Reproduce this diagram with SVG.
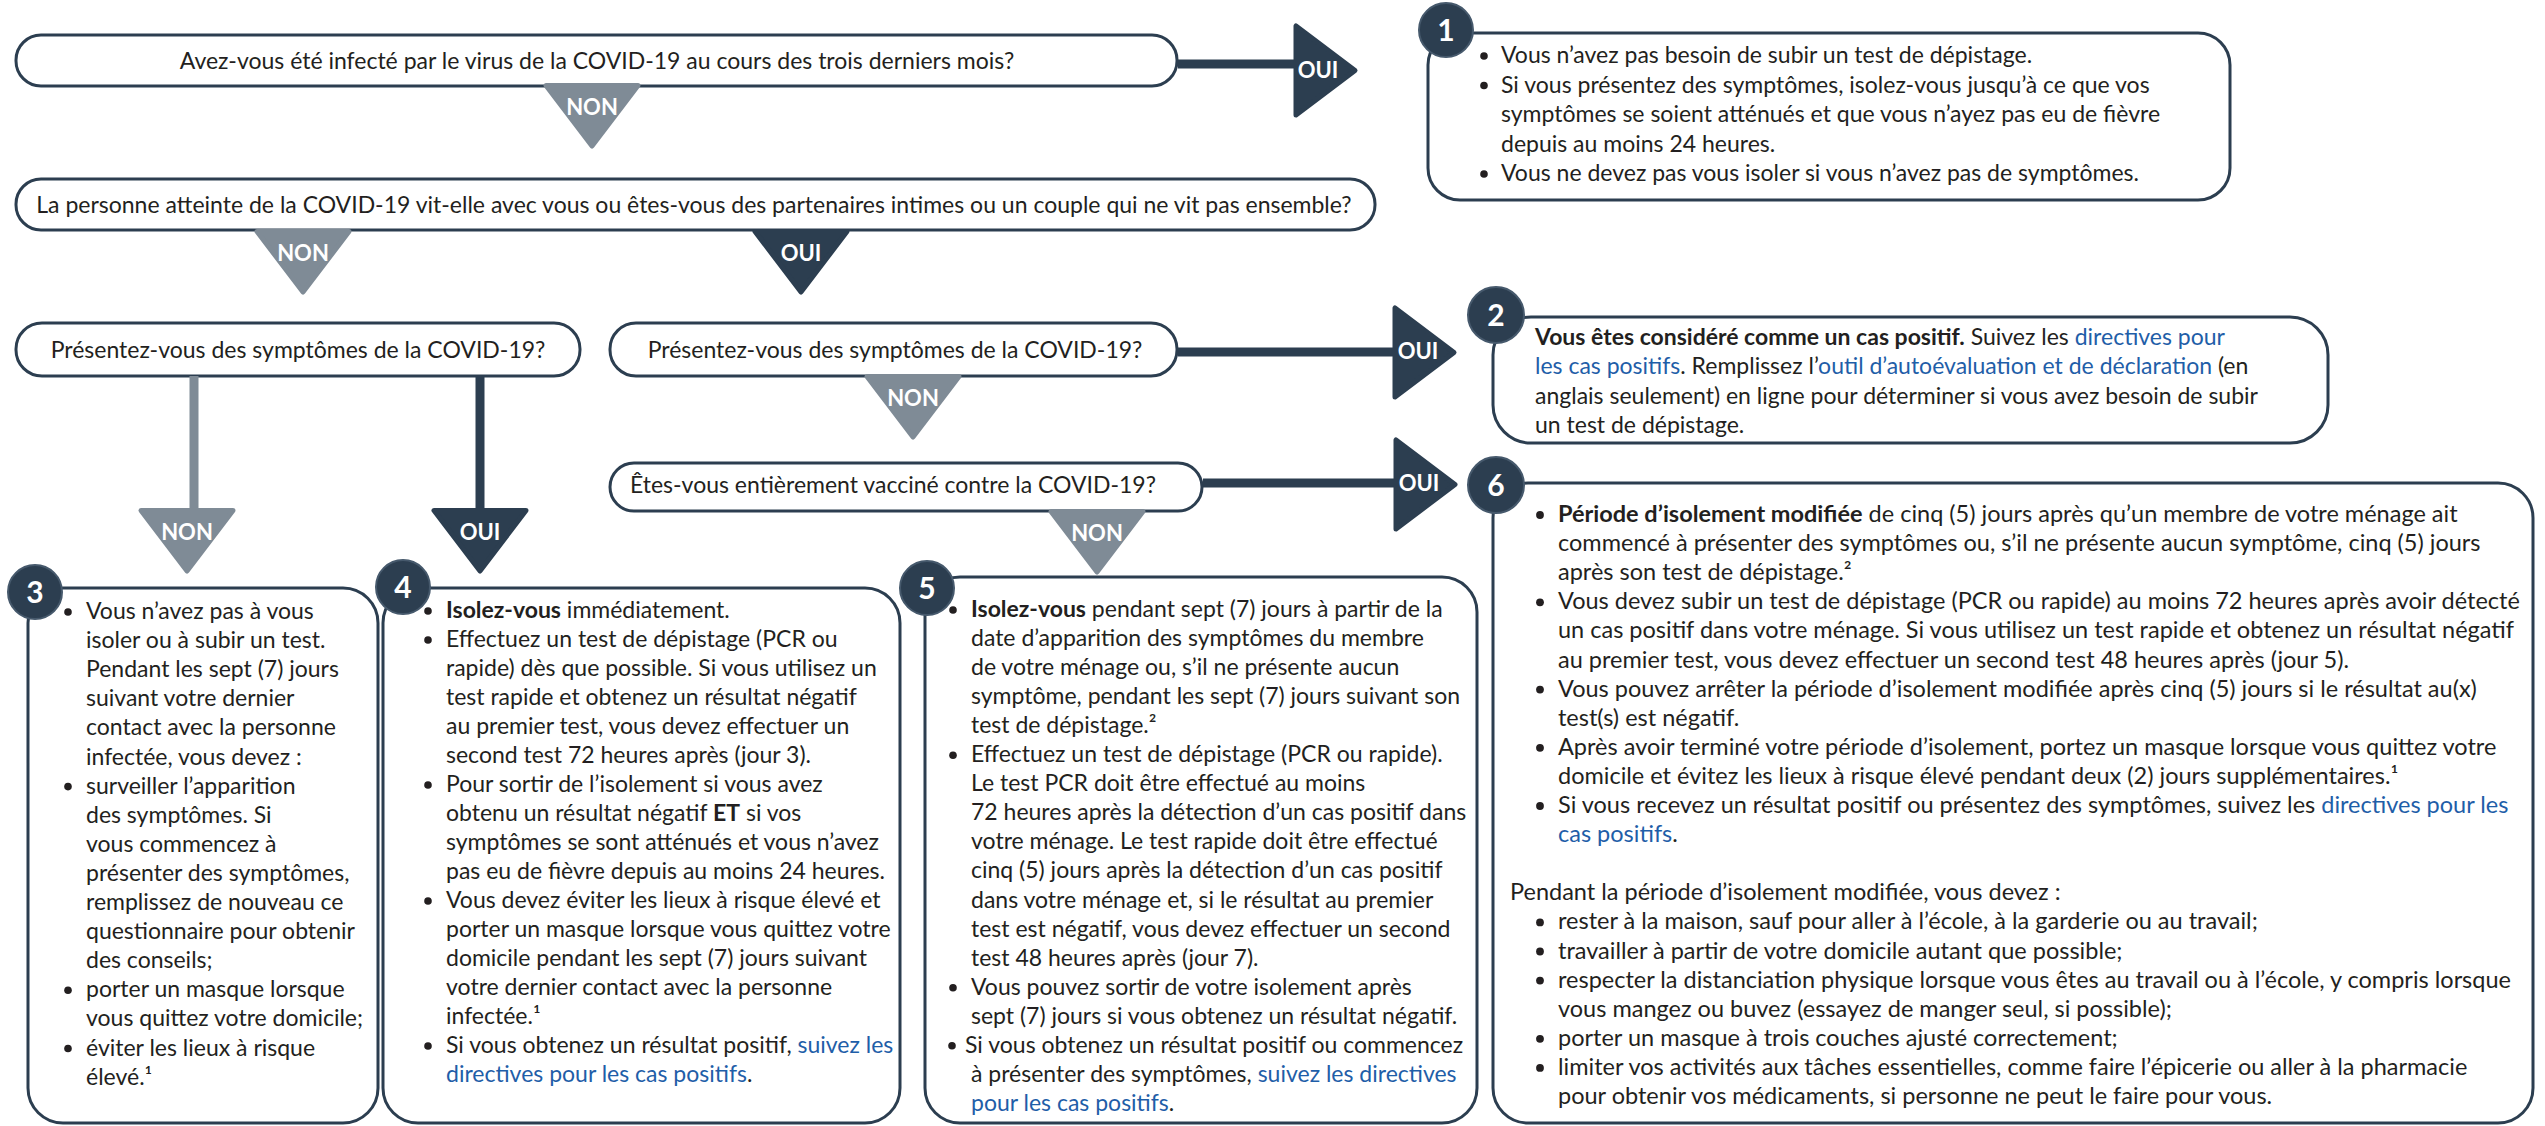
<svg xmlns="http://www.w3.org/2000/svg" xmlns:xlink="http://www.w3.org/1999/xlink" width="2545" height="1126" viewBox="0 0 2545 1126">
<defs>
<style>
text{font-family:Lato,"Noto Sans","Liberation Sans",sans-serif;font-size:23px;fill:#231f20}
.t24{font-size:23.5px}
.q{fill:#fff;stroke:#2c3e50;stroke-width:3}
.box{fill:#fff;stroke:#2c3e50;stroke-width:3}
.qt{text-anchor:middle}
.b{fill:#231f20}
.bold{font-weight:700}
.lk{fill:#1f5ea8}
.badge{fill:#2c3e50;stroke:#46596c;stroke-width:2}
.bn{font-weight:700;font-size:30px;fill:#fff;text-anchor:middle}
.lbl{font-weight:700;font-size:22px;fill:#fff;text-anchor:middle}
.dark{fill:#2c3e50;stroke:#2c3e50;stroke-width:5;stroke-linejoin:round}
.gray{fill:#7f8b96;stroke:#7f8b96;stroke-width:5;stroke-linejoin:round}
.ldark{stroke:#2c3e50;stroke-width:9;fill:none}
.lgray{stroke:#7f8b96;stroke-width:9;fill:none}
</style>
<path id="tdown" d="M-46 2.5 L46 2.5 L0 63 Z"/>
<path id="tright" d="M3 -44.5 L3 44.5 L62 0 Z"/>
</defs>
<rect width="2545" height="1126" fill="#fff"/>

<!-- Questions -->
<g id="q1">
<rect class="q" x="16" y="35" width="1161" height="51" rx="25"/>
<text class="qt" x="597" y="69">Avez-vous été infecté par le virus de la COVID-19 au cours des trois derniers mois?</text>
</g>
<g id="q2">
<rect class="q" x="16" y="179" width="1359" height="51" rx="25"/>
<text class="qt" x="694" y="213">La personne atteinte de la COVID-19 vit-elle avec vous ou êtes-vous des partenaires intimes ou un couple qui ne vit pas ensemble?</text>
</g>
<g id="q3a">
<rect class="q" x="16" y="323" width="564" height="53" rx="26"/>
<text class="qt" x="298" y="358">Présentez-vous des symptômes de la COVID-19?</text>
</g>
<g id="q3b">
<rect class="q" x="610" y="323" width="567" height="53" rx="26"/>
<text class="qt" x="895" y="358">Présentez-vous des symptômes de la COVID-19?</text>
</g>
<g id="q4">
<rect class="q" x="610" y="463" width="592" height="48" rx="24"/>
<text class="qt" x="893" y="493">Êtes-vous entièrement vacciné contre la COVID-19?</text>
</g>

<!-- Result boxes -->
<g id="r1">
<rect class="box" x="1428" y="33" width="802" height="167" rx="32"/>
<circle class="b" cx="1484" cy="56" r="3.8"/>
<circle class="b" cx="1484" cy="85.5" r="3.8"/>
<circle class="b" cx="1484" cy="174" r="3.8"/>
<text x="1501" y="63">Vous n’avez pas besoin de subir un test de dépistage.
<tspan x="1501" y="92.5">Si vous présentez des symptômes, isolez-vous jusqu’à ce que vos</tspan>
<tspan x="1501" y="122">symptômes se soient atténués et que vous n’ayez pas eu de fièvre</tspan>
<tspan x="1501" y="151.5">depuis au moins 24 heures.</tspan>
<tspan x="1501" y="181">Vous ne devez pas vous isoler si vous n’avez pas de symptômes.</tspan></text>
<circle class="badge" cx="1446" cy="30" r="27"/>
<text class="bn" x="1446" y="41">1</text>
</g>

<g id="r2">
<rect class="box" x="1493" y="317" width="835" height="126" rx="38"/>
<text x="1535" y="345"><tspan class="bold">Vous êtes considéré comme un cas positif.</tspan> Suivez les <tspan class="lk">directives pour</tspan>
<tspan x="1535" y="374.3" class="lk">les cas positifs</tspan><tspan>. Remplissez l’</tspan><tspan class="lk">outil d’autoévaluation et de déclaration</tspan><tspan> (en</tspan>
<tspan x="1535" y="403.6">anglais seulement) en ligne pour déterminer si vous avez besoin de subir</tspan>
<tspan x="1535" y="433">un test de dépistage.</tspan></text>
<circle class="badge" cx="1496" cy="315" r="28"/>
<text class="bn" x="1496" y="326">2</text>
</g>

<g id="r3">
<rect class="box" x="28" y="588" width="350" height="535" rx="35"/>
<circle class="b" cx="68" cy="612" r="3.8"/>
<circle class="b" cx="68" cy="786.6" r="3.8"/>
<circle class="b" cx="68" cy="990.3" r="3.8"/>
<circle class="b" cx="68" cy="1048.5" r="3.8"/>
<text x="86" y="619">Vous n’avez pas à vous
<tspan x="86" y="648.1">isoler ou à subir un test.</tspan>
<tspan x="86" y="677.2">Pendant les sept (7) jours</tspan>
<tspan x="86" y="706.3">suivant votre dernier</tspan>
<tspan x="86" y="735.4">contact avec la personne</tspan>
<tspan x="86" y="764.5">infectée, vous devez :</tspan>
<tspan x="86" y="793.6">surveiller l’apparition</tspan>
<tspan x="86" y="822.7">des symptômes. Si</tspan>
<tspan x="86" y="851.8">vous commencez à</tspan>
<tspan x="86" y="880.9">présenter des symptômes,</tspan>
<tspan x="86" y="910">remplissez de nouveau ce</tspan>
<tspan x="86" y="939.1">questionnaire pour obtenir</tspan>
<tspan x="86" y="968.2">des conseils;</tspan>
<tspan x="86" y="997.3">porter un masque lorsque</tspan>
<tspan x="86" y="1026.4">vous quittez votre domicile;</tspan>
<tspan x="86" y="1055.5">éviter les lieux à risque</tspan>
<tspan x="86" y="1084.6">élevé.¹</tspan></text>
<circle class="badge" cx="35" cy="592" r="27"/>
<text class="bn" x="35" y="603">3</text>
</g>

<g id="r4">
<rect class="box" x="383" y="588" width="517" height="535" rx="35"/>
<circle class="b" cx="428" cy="611" r="3.8"/>
<circle class="b" cx="428" cy="640" r="3.8"/>
<circle class="b" cx="428" cy="785" r="3.8"/>
<circle class="b" cx="428" cy="901" r="3.8"/>
<circle class="b" cx="428" cy="1046" r="3.8"/>
<text x="446" y="618"><tspan class="bold">Isolez-vous</tspan> immédiatement.
<tspan x="446" y="647">Effectuez un test de dépistage (PCR ou</tspan>
<tspan x="446" y="676">rapide) dès que possible. Si vous utilisez un</tspan>
<tspan x="446" y="705">test rapide et obtenez un résultat négatif</tspan>
<tspan x="446" y="734">au premier test, vous devez effectuer un</tspan>
<tspan x="446" y="763">second test 72 heures après (jour 3).</tspan>
<tspan x="446" y="792">Pour sortir de l’isolement si vous avez</tspan>
<tspan x="446" y="821">obtenu un résultat négatif </tspan><tspan class="bold">ET</tspan><tspan> si vos</tspan>
<tspan x="446" y="850">symptômes se sont atténués et vous n’avez</tspan>
<tspan x="446" y="879">pas eu de fièvre depuis au moins 24 heures.</tspan>
<tspan x="446" y="908">Vous devez éviter les lieux à risque élevé et</tspan>
<tspan x="446" y="937">porter un masque lorsque vous quittez votre</tspan>
<tspan x="446" y="966">domicile pendant les sept (7) jours suivant</tspan>
<tspan x="446" y="995">votre dernier contact avec la personne</tspan>
<tspan x="446" y="1024">infectée.¹</tspan>
<tspan x="446" y="1053">Si vous obtenez un résultat positif, </tspan><tspan class="lk">suivez les</tspan>
<tspan x="446" y="1082" class="lk">directives pour les cas positifs</tspan><tspan>.</tspan></text>
<circle class="badge" cx="403" cy="587" r="27"/>
<text class="bn" x="403" y="598">4</text>
</g>

<g id="r5">
<rect class="box" x="925" y="577" width="552" height="546" rx="35"/>
<circle class="b" cx="953" cy="610" r="3.8"/>
<circle class="b" cx="953" cy="755.3" r="3.8"/>
<circle class="b" cx="953" cy="987.7" r="3.8"/>
<circle class="b" cx="952" cy="1045.8" r="3.8"/>
<text x="971" y="617"><tspan class="bold">Isolez-vous</tspan> pendant sept (7) jours à partir de la
<tspan x="971" y="646.05">date d’apparition des symptômes du membre</tspan>
<tspan x="971" y="675.1">de votre ménage ou, s’il ne présente aucun</tspan>
<tspan x="971" y="704.15">symptôme, pendant les sept (7) jours suivant son</tspan>
<tspan x="971" y="733.2">test de dépistage.²</tspan>
<tspan x="971" y="762.25">Effectuez un test de dépistage (PCR ou rapide).</tspan>
<tspan x="971" y="791.3">Le test PCR doit être effectué au moins</tspan>
<tspan x="971" y="820.35">72 heures après la détection d’un cas positif dans</tspan>
<tspan x="971" y="849.4">votre ménage. Le test rapide doit être effectué</tspan>
<tspan x="971" y="878.45">cinq (5) jours après la détection d’un cas positif</tspan>
<tspan x="971" y="907.5">dans votre ménage et, si le résultat au premier</tspan>
<tspan x="971" y="936.55">test est négatif, vous devez effectuer un second</tspan>
<tspan x="971" y="965.6">test 48 heures après (jour 7).</tspan>
<tspan x="971" y="994.65">Vous pouvez sortir de votre isolement après</tspan>
<tspan x="971" y="1023.7">sept (7) jours si vous obtenez un résultat négatif.</tspan>
<tspan x="965" y="1052.75">Si vous obtenez un résultat positif ou commencez</tspan>
<tspan x="971" y="1081.8">à présenter des symptômes, </tspan><tspan class="lk">suivez les directives</tspan>
<tspan x="971" y="1110.85" class="lk">pour les cas positifs</tspan><tspan>.</tspan></text>
<circle class="badge" cx="927" cy="588" r="27"/>
<text class="bn" x="927" y="599">5</text>
</g>

<g id="r6">
<rect class="box" x="1493" y="483" width="1040" height="640" rx="35"/>
<circle class="b" cx="1540" cy="515" r="3.9"/>
<circle class="b" cx="1540" cy="602.3" r="3.9"/>
<circle class="b" cx="1540" cy="689.6" r="3.9"/>
<circle class="b" cx="1540" cy="747.8" r="3.9"/>
<circle class="b" cx="1540" cy="806" r="3.9"/>
<circle class="b" cx="1540" cy="922.4" r="3.9"/>
<circle class="b" cx="1540" cy="951.5" r="3.9"/>
<circle class="b" cx="1540" cy="980.6" r="3.9"/>
<circle class="b" cx="1540" cy="1038.8" r="3.9"/>
<circle class="b" cx="1540" cy="1067.9" r="3.9"/>
<text class="t24" x="1558" y="522"><tspan class="bold">Période d’isolement modifiée</tspan> de cinq (5) jours après qu’un membre de votre ménage ait
<tspan x="1558" y="551.1">commencé à présenter des symptômes ou, s’il ne présente aucun symptôme, cinq (5) jours</tspan>
<tspan x="1558" y="580.2">après son test de dépistage.²</tspan>
<tspan x="1558" y="609.3">Vous devez subir un test de dépistage (PCR ou rapide) au moins 72 heures après avoir détecté</tspan>
<tspan x="1558" y="638.4">un cas positif dans votre ménage. Si vous utilisez un test rapide et obtenez un résultat négatif</tspan>
<tspan x="1558" y="667.5">au premier test, vous devez effectuer un second test 48 heures après (jour 5).</tspan>
<tspan x="1558" y="696.6">Vous pouvez arrêter la période d’isolement modifiée après cinq (5) jours si le résultat au(x)</tspan>
<tspan x="1558" y="725.7">test(s) est négatif.</tspan>
<tspan x="1558" y="754.8">Après avoir terminé votre période d’isolement, portez un masque lorsque vous quittez votre</tspan>
<tspan x="1558" y="783.9">domicile et évitez les lieux à risque élevé pendant deux (2) jours supplémentaires.¹</tspan>
<tspan x="1558" y="813">Si vous recevez un résultat positif ou présentez des symptômes, suivez les </tspan><tspan class="lk">directives pour les</tspan>
<tspan x="1558" y="842.1" class="lk">cas positifs</tspan><tspan>.</tspan>
<tspan x="1510" y="900.3">Pendant la période d’isolement modifiée, vous devez :</tspan>
<tspan x="1558" y="929.4">rester à la maison, sauf pour aller à l’école, à la garderie ou au travail;</tspan>
<tspan x="1558" y="958.5">travailler à partir de votre domicile autant que possible;</tspan>
<tspan x="1558" y="987.6">respecter la distanciation physique lorsque vous êtes au travail ou à l’école, y compris lorsque</tspan>
<tspan x="1558" y="1016.7">vous mangez ou buvez (essayez de manger seul, si possible);</tspan>
<tspan x="1558" y="1045.8">porter un masque à trois couches ajusté correctement;</tspan>
<tspan x="1558" y="1074.9">limiter vos activités aux tâches essentielles, comme faire l’épicerie ou aller à la pharmacie</tspan>
<tspan x="1558" y="1104">pour obtenir vos médicaments, si personne ne peut le faire pour vous.</tspan></text>
<circle class="badge" cx="1496" cy="485" r="28"/>
<text class="bn" x="1496" y="496">6</text>
</g>

<!-- Connectors -->
<g id="connectors">
<g id="c-q1-oui">
<line class="ldark" x1="1178" y1="64" x2="1296" y2="64"/>
<use href="#tright" xlink:href="#tright" class="dark" x="1293" y="70.5"/>
<text class="lbl" x="1318" y="78">OUI</text>
</g>
<g id="c-q1-non">
<use href="#tdown" xlink:href="#tdown" class="gray" x="592" y="83"/>
<text class="lbl" x="592" y="115">NON</text>
</g>
<g id="c-q2-non">
<use href="#tdown" xlink:href="#tdown" class="gray" x="303" y="229"/>
<text class="lbl" x="303" y="261">NON</text>
</g>
<g id="c-q2-oui">
<use href="#tdown" xlink:href="#tdown" class="dark" x="801" y="229"/>
<text class="lbl" x="801" y="261">OUI</text>
</g>
<g id="c-q3b-oui">
<line class="ldark" x1="1178" y1="352" x2="1395" y2="352"/>
<use href="#tright" xlink:href="#tright" class="dark" x="1392" y="352.5"/>
<text class="lbl" x="1418" y="359">OUI</text>
</g>
<g id="c-q3b-non">
<use href="#tdown" xlink:href="#tdown" class="gray" x="913" y="374"/>
<text class="lbl" x="913" y="406">NON</text>
</g>
<g id="c-q3a-non">
<line class="lgray" x1="194" y1="376" x2="194" y2="512"/>
<use href="#tdown" xlink:href="#tdown" class="gray" x="187" y="508"/>
<text class="lbl" x="187" y="540">NON</text>
</g>
<g id="c-q3a-oui">
<line class="ldark" x1="480" y1="376" x2="480" y2="512"/>
<use href="#tdown" xlink:href="#tdown" class="dark" x="480" y="508"/>
<text class="lbl" x="480" y="540">OUI</text>
</g>
<g id="c-q4-oui">
<line class="ldark" x1="1203" y1="483" x2="1396" y2="483"/>
<use href="#tright" xlink:href="#tright" class="dark" x="1393" y="484.5"/>
<text class="lbl" x="1419" y="491">OUI</text>
</g>
<g id="c-q4-non">
<use href="#tdown" xlink:href="#tdown" class="gray" x="1097" y="509"/>
<text class="lbl" x="1097" y="541">NON</text>
</g>
</g>
</svg>
